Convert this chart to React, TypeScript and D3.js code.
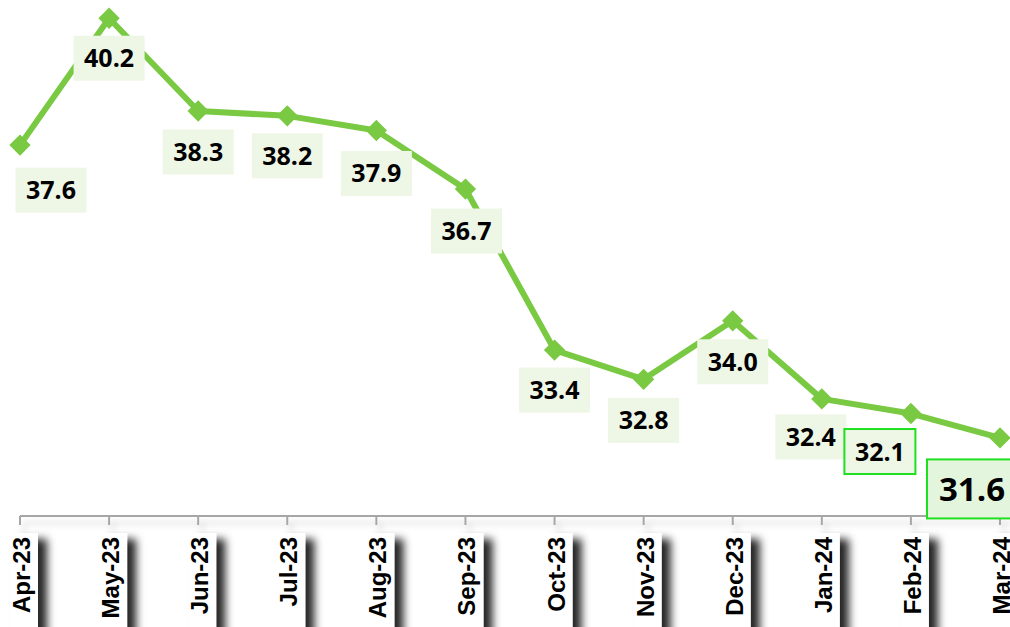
import React from "react";
import * as d3 from "d3";

const months = ["Apr-23","May-23","Jun-23","Jul-23","Aug-23","Sep-23","Oct-23","Nov-23","Dec-23","Jan-24","Feb-24","Mar-24"];
const values = [37.6, 40.2, 38.3, 38.2, 37.9, 36.7, 33.4, 32.8, 34.0, 32.4, 32.1, 31.6];
// label offsets from point (layout)
const labelDx = [31, 0, 0, 0, 0, 1, 0, 0, 0, -11, -31, -30];
const labelDy = [45, 40, 41, 40, 43, 42, 40, 41, 41, 38, 38, 51];

const W = 1010, H = 627;

export default function App() {
  const x = d3.scalePoint<string>().domain(months).range([20, 1000]);
  const y = d3.scaleLinear().domain([30, 40.5]).range([516, 3.6]);
  const line = d3.line<number>().x((_, i) => x(months[i])!).y((v) => y(v));
  const diamond = d3.symbol().type(d3.symbolDiamond2).size(290)();
  const axisY = 516;
  const n = values.length;
  return (
    <svg width={W} height={H} style={{ position: "absolute", left: 0, top: 0, background: "#fff" }}>
      <defs>
        <filter id="lblShadow" x="-80%" y="-20%" width="260%" height="140%">
          <feDropShadow dx="9" dy="6" stdDeviation="4" floodColor="#000" floodOpacity="0.85" />
        </filter>
        <filter id="axShadow" x="-5%" y="-200%" width="110%" height="600%">
          <feDropShadow dx="4" dy="7" stdDeviation="3" floodColor="#000" floodOpacity="0.18" />
        </filter>
      </defs>
      {/* axis */}
      <g filter="url(#axShadow)">
        <line x1={20} x2={W} y1={axisY} y2={axisY} stroke="#a6a6a6" strokeWidth={2} />
        {months.map((m) => (
          <line key={m} x1={x(m)} x2={x(m)} y1={axisY} y2={axisY + 9} stroke="#a6a6a6" strokeWidth={2} />
        ))}
      </g>
      {/* axis labels */}
      {months.map((m) => {
        const cx = x(m)!;
        return (
          <g key={m}>
            <rect x={cx - 10} y={533} width={28} height={110} fill="#fff" filter="url(#lblShadow)" />
            <text
              transform={`translate(${cx + 10},537) rotate(-90)`}
              textAnchor="end"
              fontFamily="'Liberation Sans', Arial, sans-serif"
              fontWeight="bold"
              fontSize={24}
              fill="#000"
            >
              {m}
            </text>
          </g>
        );
      })}
      {/* line */}
      <path d={line(values)!} fill="none" stroke="#7ac943" strokeWidth={6} strokeLinejoin="round" />
      {values.map((v, i) => (
        <path key={i} d={diamond} transform={`translate(${x(months[i])},${y(v)})`} fill="#7ac943" />
      ))}
      {/* data labels */}
      {values.map((v, i) => {
        const cx = x(months[i])! + labelDx[i];
        const cy = y(v) + labelDy[i];
        const last = i === n - 1;
        const bordered = i >= n - 2;
        const bw = last ? 86 : 71;
        const bh = last ? 59 : 45;
        return (
          <g key={"l" + i}>
            <rect
              x={cx - bw / 2}
              y={cy - bh / 2}
              width={bw}
              height={bh}
              fill={last ? "#e3f6dd" : "#eef6e6"}
              stroke={bordered ? "#1fe01f" : "none"}
              strokeWidth={bordered ? 2 : 0}
            />
            <text
              x={last ? cx + 2 : cx}
              y={cy}
              dy="0.36em"
              textAnchor="middle"
              fontFamily="'Open Sans', sans-serif"
              fontWeight="bold"
              fontSize={last ? 33 : 25}
              fill="#000"
            >
              {v.toFixed(1)}
            </text>
          </g>
        );
      })}
    </svg>
  );
}
